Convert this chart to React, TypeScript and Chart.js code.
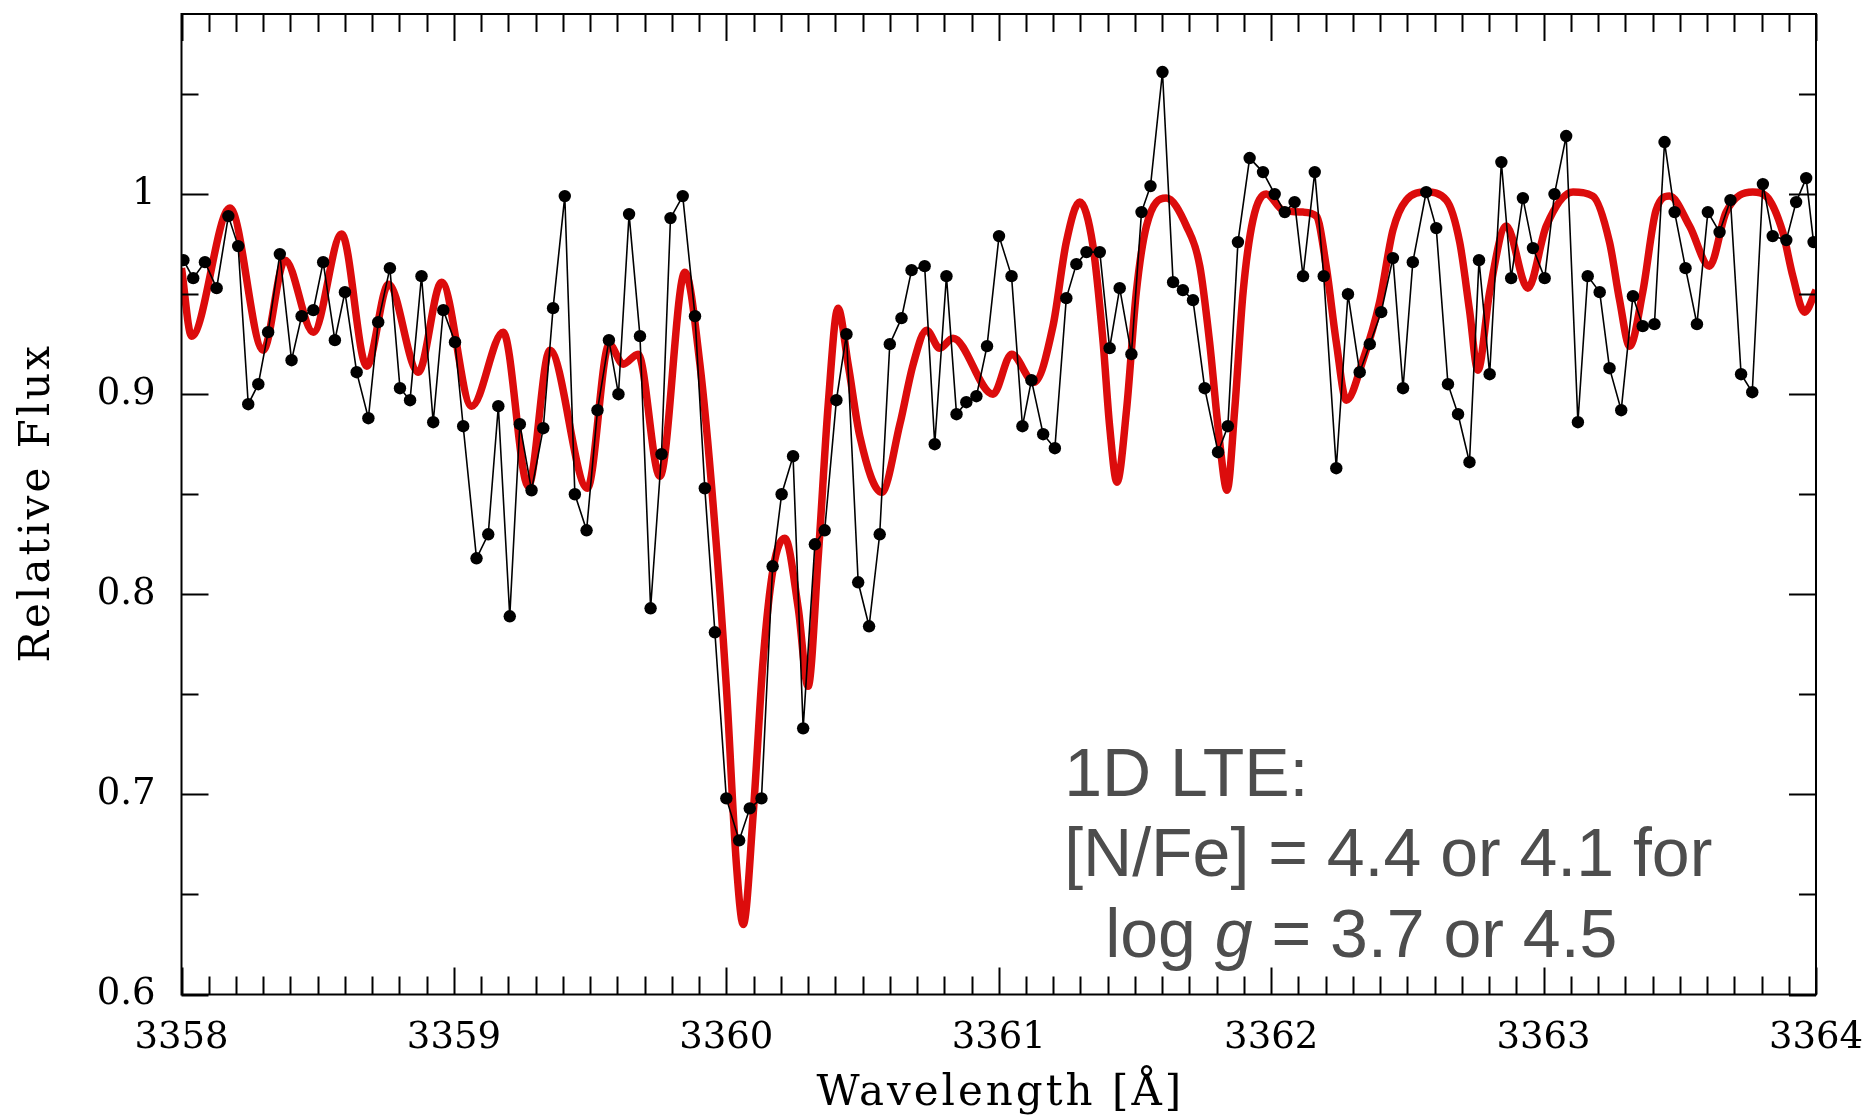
import React, { useEffect, useRef } from 'react';
import { Chart, registerables } from 'chart.js';

Chart.register(...registerables);

// Observed spectrum (black dots)
const obsWavelength = [
  3358.007, 3358.043, 3358.086, 3358.129, 3358.172, 3358.208, 3358.245, 3358.282, 3358.318, 3358.361,
  3358.404, 3358.441, 3358.484, 3358.520, 3358.563, 3358.600, 3358.643, 3358.686, 3358.722, 3358.765,
  3358.802, 3358.839, 3358.881, 3358.924, 3358.961, 3359.004, 3359.034, 3359.083, 3359.126, 3359.163,
  3359.205, 3359.242, 3359.285, 3359.328, 3359.364, 3359.407, 3359.444, 3359.487, 3359.527, 3359.569,
  3359.604, 3359.643, 3359.683, 3359.722, 3359.762, 3359.795, 3359.840, 3359.885, 3359.921, 3359.958,
  3360.000, 3360.047, 3360.086, 3360.129, 3360.170, 3360.203, 3360.245, 3360.282, 3360.325, 3360.361,
  3360.404, 3360.441, 3360.484, 3360.524, 3360.563, 3360.600, 3360.643, 3360.680, 3360.728, 3360.765,
  3360.808, 3360.845, 3360.881, 3360.918, 3360.957, 3361.001, 3361.047, 3361.087, 3361.120, 3361.163,
  3361.206, 3361.248, 3361.285, 3361.322, 3361.371, 3361.407, 3361.444, 3361.487, 3361.524, 3361.557,
  3361.601, 3361.640, 3361.676, 3361.713, 3361.756, 3361.805, 3361.841, 3361.878, 3361.921, 3361.970,
  3362.013, 3362.050, 3362.086, 3362.117, 3362.160, 3362.193, 3362.239, 3362.282, 3362.325, 3362.362,
  3362.404, 3362.447, 3362.484, 3362.520, 3362.569, 3362.606, 3362.649, 3362.686, 3362.728, 3362.763,
  3362.802, 3362.845, 3362.881, 3362.924, 3362.961, 3363.004, 3363.040, 3363.083, 3363.126, 3363.162,
  3363.206, 3363.242, 3363.285, 3363.328, 3363.364, 3363.407, 3363.444, 3363.481, 3363.521, 3363.563,
  3363.603, 3363.646, 3363.686, 3363.725, 3363.766, 3363.805, 3363.841, 3363.891, 3363.927, 3363.964,
  3363.991,
];
const obsFlux = [
  0.967, 0.958, 0.966, 0.953, 0.989, 0.974, 0.895, 0.905, 0.931, 0.970,
  0.917, 0.939, 0.942, 0.966, 0.927, 0.951, 0.911, 0.888, 0.936, 0.963,
  0.903, 0.897, 0.959, 0.886, 0.942, 0.926, 0.884, 0.818, 0.830, 0.894,
  0.789, 0.885, 0.852, 0.883, 0.943, 0.999, 0.850, 0.832, 0.892, 0.927,
  0.900, 0.990, 0.929, 0.793, 0.870, 0.988, 0.999, 0.939, 0.853, 0.781,
  0.698, 0.677, 0.693, 0.698, 0.814, 0.850, 0.869, 0.733, 0.825, 0.832,
  0.897, 0.930, 0.806, 0.784, 0.830, 0.925, 0.938, 0.962, 0.964, 0.875,
  0.959, 0.890, 0.896, 0.899, 0.924, 0.979, 0.959, 0.884, 0.907, 0.880,
  0.873, 0.948, 0.965, 0.971, 0.971, 0.923, 0.953, 0.920, 0.991, 1.004,
  1.061, 0.956, 0.952, 0.947, 0.903, 0.871, 0.884, 0.976, 1.018, 1.011,
  1.000, 0.991, 0.996, 0.959, 1.011, 0.959, 0.863, 0.950, 0.911, 0.925,
  0.941, 0.968, 0.903, 0.966, 1.001, 0.983, 0.905, 0.890, 0.866, 0.967,
  0.910, 1.016, 0.958, 0.998, 0.973, 0.958, 1.000, 1.029, 0.886, 0.959,
  0.951, 0.913, 0.892, 0.949, 0.934, 0.935, 1.026, 0.991, 0.963, 0.935,
  0.991, 0.981, 0.997, 0.910, 0.901, 1.005, 0.979, 0.977, 0.996, 1.008,
  0.976,
];

// 1D LTE synthetic spectrum (red curve)
const modelWavelength = [
  3358.000, 3358.037, 3358.178, 3358.300, 3358.380, 3358.484, 3358.588, 3358.680, 3358.760, 3358.869,
  3358.955, 3359.065, 3359.181, 3359.273, 3359.352, 3359.490, 3359.570, 3359.621, 3359.676, 3359.756,
  3359.848, 3359.903, 3359.952, 3360.000, 3360.037, 3360.062, 3360.099, 3360.135, 3360.172, 3360.215,
  3360.264, 3360.300, 3360.337, 3360.374, 3360.410, 3360.447, 3360.490, 3360.570, 3360.637, 3360.686,
  3360.735, 3360.783, 3360.832, 3360.979, 3361.047, 3361.130, 3361.199, 3361.248, 3361.297, 3361.346,
  3361.383, 3361.407, 3361.434, 3361.469, 3361.505, 3361.542, 3361.615, 3361.689, 3361.738, 3361.774,
  3361.811, 3361.838, 3361.866, 3361.897, 3361.933, 3361.982, 3362.043, 3362.117, 3362.166, 3362.202,
  3362.239, 3362.276, 3362.337, 3362.398, 3362.447, 3362.496, 3362.569, 3362.643, 3362.692, 3362.728,
  3362.759, 3362.802, 3362.863, 3362.942, 3363.010, 3363.108, 3363.181, 3363.242, 3363.279, 3363.316,
  3363.364, 3363.413, 3363.462, 3363.536, 3363.609, 3363.670, 3363.768, 3363.817, 3363.878, 3363.915,
  3363.958, 3364.000,
];
const modelFlux = [
  0.963, 0.929, 0.993, 0.922, 0.967, 0.931, 0.980, 0.914, 0.955, 0.911,
  0.956, 0.894, 0.931, 0.854, 0.922, 0.853, 0.925, 0.915, 0.920, 0.859,
  0.961, 0.915, 0.844, 0.754, 0.665, 0.635, 0.691, 0.767, 0.813, 0.828,
  0.793, 0.754, 0.818, 0.895, 0.943, 0.915, 0.879, 0.851, 0.885, 0.915,
  0.932, 0.923, 0.928, 0.900, 0.920, 0.906, 0.934, 0.976, 0.996, 0.974,
  0.926, 0.884, 0.856, 0.892, 0.951, 0.984, 0.998, 0.984, 0.964, 0.926,
  0.876, 0.852, 0.892, 0.951, 0.987, 1.000, 0.992, 0.991, 0.989, 0.964,
  0.926, 0.897, 0.917, 0.946, 0.982, 0.997, 1.001, 0.997, 0.976, 0.942,
  0.912, 0.951, 0.984, 0.953, 0.984, 1.001, 0.999, 0.976, 0.947, 0.924,
  0.951, 0.992, 0.999, 0.984, 0.964, 0.991, 1.001, 0.999, 0.981, 0.959,
  0.941, 0.952,
];

const xTickValues = [3358, 3359, 3360, 3361, 3362, 3363, 3364];
const xTickLabels = ['3358', '3359', '3360', '3361', '3362', '3363', '3364'];
const yTickValues = [0.6, 0.7, 0.8, 0.9, 1.0];
const yTickLabels = ['0.6', '0.7', '0.8', '0.9', '1'];

const xTitle = 'Wavelength [Å]';
const yTitle = 'Relative Flux';
const noteLine1 = '1D LTE:';
const noteLine2 = '[N/Fe] = 4.4 or 4.1 for';
const noteLine3a = 'log ';
const noteLine3g = 'g';
const noteLine3b = ' = 3.7 or 4.5';
const noteAnchorWavelength = 3361.24;
const noteAnchorFlux = 0.6993;

const X_MIN = 3358;
const X_MAX = 3364;
const Y_MIN = 0.6;
const Y_MAX = 1.09;

const SERIF = '"DejaVu Serif", "Liberation Serif", serif';

const framePlugin = {
  id: 'frameTicks',
  afterDatasetsDraw(chart: any) {
    const { ctx, chartArea: a, scales } = chart;
    const xs = scales.x;
    const ys = scales.y;
    ctx.save();
    ctx.strokeStyle = '#000';
    ctx.lineWidth = 2;
    ctx.strokeRect(a.left, a.top, a.right - a.left, a.bottom - a.top);
    ctx.beginPath();
    for (let i = 0; i <= 60; i++) {
      const v = X_MIN + i * 0.1;
      const px = Math.round(xs.getPixelForValue(v)) + 0.5;
      const major = i % 10 === 0;
      const len = major ? 27 : 18;
      ctx.moveTo(px, a.bottom);
      ctx.lineTo(px, a.bottom - len);
      ctx.moveTo(px, a.top);
      ctx.lineTo(px, a.top + len);
    }
    for (let i = 0; i <= 9; i++) {
      const v = Y_MIN + i * 0.05;
      const py = Math.round(ys.getPixelForValue(v)) + 0.5;
      const major = i % 2 === 0;
      const len = major ? 27 : 17;
      ctx.moveTo(a.left, py);
      ctx.lineTo(a.left + len, py);
      ctx.moveTo(a.right, py);
      ctx.lineTo(a.right - len, py);
    }
    ctx.stroke();

    // axis titles (letter-spaced, typewriter-like)
    ctx.fillStyle = '#000';
    ctx.font = '42px ' + SERIF;
    (ctx as any).letterSpacing = '3px';
    ctx.textAlign = 'center';
    ctx.textBaseline = 'alphabetic';
    ctx.fillText(xTitle, (a.left + a.right) / 2 + 1.5, chart.height - 11);
    ctx.save();
    ctx.translate(49, ys.getPixelForValue(0.845));
    ctx.rotate(-Math.PI / 2);
    ctx.fillText(yTitle, 1.5, 0);
    ctx.restore();
    (ctx as any).letterSpacing = '0px';

    // annotation
    const x0 = xs.getPixelForValue(noteAnchorWavelength);
    const y0 = ys.getPixelForValue(noteAnchorFlux);
    const lh = 80.5;
    ctx.fillStyle = '#4d4d4d';
    ctx.textAlign = 'left';
    ctx.textBaseline = 'alphabetic';
    const f = '68px "Liberation Sans", Arial, sans-serif';
    ctx.font = f;
    ctx.fillText(noteLine1, x0, y0);
    ctx.fillText(noteLine2, x0, y0 + lh);
    let x3 = x0 + 41;
    ctx.fillText(noteLine3a, x3, y0 + 2 * lh);
    x3 += ctx.measureText(noteLine3a).width;
    ctx.font = 'italic ' + f;
    ctx.fillText(noteLine3g, x3, y0 + 2 * lh);
    x3 += ctx.measureText(noteLine3g).width;
    ctx.font = f;
    ctx.fillText(noteLine3b, x3, y0 + 2 * lh);
    ctx.restore();
  },
};

export default function App() {
  const canvasRef = useRef<HTMLCanvasElement | null>(null);

  useEffect(() => {
    const canvas = canvasRef.current;
    if (!canvas) return;
    const tickFont = { family: SERIF, size: 37 };
    const chart = new Chart(canvas, {
      type: 'line',
      data: {
        datasets: [
          {
            label: 'Observed',
            data: obsWavelength.map((x, i) => ({ x, y: obsFlux[i] })),
            borderColor: '#000000',
            backgroundColor: '#000000',
            borderWidth: 1.6,
            pointRadius: 6.2,
            pointBackgroundColor: '#000000',
            pointBorderWidth: 0,
            tension: 0,
            order: 1,
          },
          {
            label: '1D LTE model',
            data: modelWavelength.map((x, i) => ({ x, y: modelFlux[i] })),
            borderColor: '#dc0c0c',
            borderWidth: 7.5,
            pointRadius: 0,
            cubicInterpolationMode: 'monotone',
            order: 2,
          },
        ],
      },
      options: {
        responsive: false,
        animation: false,
        layout: { padding: { left: 0, top: 14, right: 56, bottom: 0 } },
        plugins: { legend: { display: false }, tooltip: { enabled: false } },
        scales: {
          x: {
            type: 'linear',
            min: X_MIN,
            max: X_MAX,
            grid: { display: false, drawTicks: false },
            border: { display: false },
            afterBuildTicks: (s: any) => {
              s.ticks = xTickValues.map((v) => ({ value: v }));
            },
            afterFit: (s: any) => {
              s.height = 121.5;
              s.paddingLeft = 0;
              s.paddingRight = 0;
            },
            ticks: {
              autoSkip: false,
              maxRotation: 0,
              padding: 22,
              color: '#000',
              font: tickFont,
              callback: (_v: any, i: number) => xTickLabels[i],
            },
            title: { display: false },
          },
          y: {
            type: 'linear',
            min: Y_MIN,
            max: Y_MAX,
            grid: { display: false, drawTicks: false },
            border: { display: false },
            afterBuildTicks: (s: any) => {
              s.ticks = yTickValues.map((v) => ({ value: v }));
            },
            afterFit: (s: any) => {
              s.width = 181.5;
              s.paddingTop = 0;
              s.paddingBottom = 0;
            },
            ticks: {
              autoSkip: false,
              padding: 26,
              color: '#000',
              font: tickFont,
              callback: (_v: any, i: number) => yTickLabels[i],
            },
            title: { display: false },
          },
        },
      },
      plugins: [framePlugin],
    } as any);
    return () => chart.destroy();
  }, []);

  return (
    <div style={{ position: 'fixed', left: 0, top: 0, width: 1872, height: 1116, background: '#ffffff' }}>
      <canvas ref={canvasRef} width={1872} height={1116} style={{ display: 'block' }} />
    </div>
  );
}
